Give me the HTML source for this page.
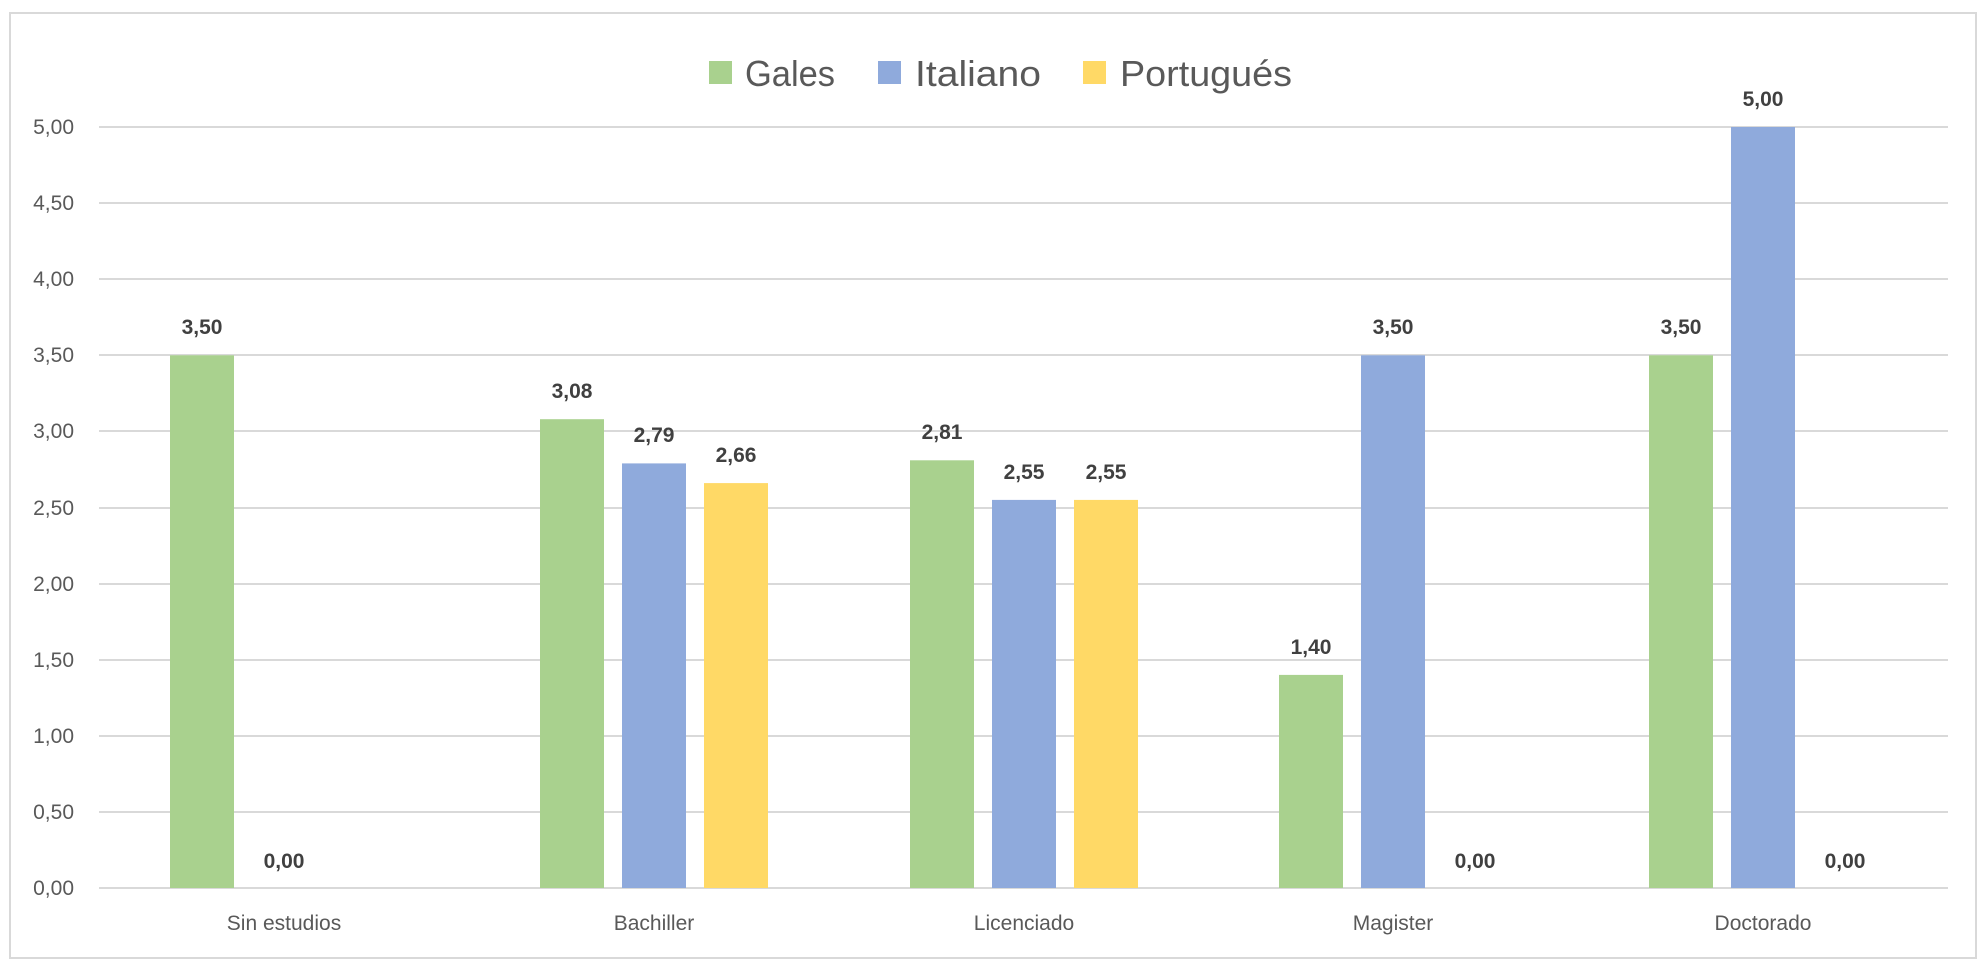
<!DOCTYPE html>
<html><head><meta charset="utf-8"><style>html,body{margin:0;padding:0;background:#fff}svg{display:block}</style></head>
<body>
<svg width="1986" height="970" viewBox="0 0 1986 970" xmlns="http://www.w3.org/2000/svg" font-family="Liberation Sans, sans-serif">
<rect x="10" y="13" width="1966" height="945" fill="#fff" stroke="#d9d9d9" stroke-width="2"/>
<!-- legend -->
<rect x="709" y="61" width="23" height="23" fill="#a9d18e"/>
<text x="745" y="86" font-size="36" fill="#595959" textLength="90" lengthAdjust="spacingAndGlyphs">Gales</text>
<rect x="878" y="61" width="23" height="23" fill="#8faadc"/>
<text x="915" y="86" font-size="36" fill="#595959" textLength="126" lengthAdjust="spacingAndGlyphs">Italiano</text>
<rect x="1083" y="61" width="23" height="23" fill="#ffd966"/>
<text x="1120" y="86" font-size="36" fill="#595959" textLength="172" lengthAdjust="spacingAndGlyphs">Portugués</text>
<!-- gridlines -->
<g stroke="#d9d9d9" stroke-width="2">
<line x1="99" x2="1948" y1="127" y2="127"/>
<line x1="99" x2="1948" y1="203" y2="203"/>
<line x1="99" x2="1948" y1="279" y2="279"/>
<line x1="99" x2="1948" y1="355" y2="355"/>
<line x1="99" x2="1948" y1="431" y2="431"/>
<line x1="99" x2="1948" y1="508" y2="508"/>
<line x1="99" x2="1948" y1="584" y2="584"/>
<line x1="99" x2="1948" y1="660" y2="660"/>
<line x1="99" x2="1948" y1="736" y2="736"/>
<line x1="99" x2="1948" y1="812" y2="812"/>
<line x1="99" x2="1948" y1="888" y2="888"/>
</g>
<g font-size="21" fill="#595959" text-anchor="end">
<text x="74" y="134">5,00</text>
<text x="74" y="210">4,50</text>
<text x="74" y="286">4,00</text>
<text x="74" y="362">3,50</text>
<text x="74" y="438">3,00</text>
<text x="74" y="515">2,50</text>
<text x="74" y="591">2,00</text>
<text x="74" y="667">1,50</text>
<text x="74" y="743">1,00</text>
<text x="74" y="819">0,50</text>
<text x="74" y="895">0,00</text>
</g>
<!-- bars: y = 888 - v*152.2 -->
<g>
<rect x="170" y="355.3" width="64" height="532.7" fill="#a9d18e"/>
<rect x="540" y="419.2" width="64" height="468.8" fill="#a9d18e"/>
<rect x="622" y="463.4" width="64" height="424.6" fill="#8faadc"/>
<rect x="704" y="483.1" width="64" height="404.9" fill="#ffd966"/>
<rect x="910" y="460.3" width="64" height="427.7" fill="#a9d18e"/>
<rect x="992" y="499.9" width="64" height="388.1" fill="#8faadc"/>
<rect x="1074" y="499.9" width="64" height="388.1" fill="#ffd966"/>
<rect x="1279" y="674.9" width="64" height="213.1" fill="#a9d18e"/>
<rect x="1361" y="355.3" width="64" height="532.7" fill="#8faadc"/>
<rect x="1649" y="355.3" width="64" height="532.7" fill="#a9d18e"/>
<rect x="1731" y="127" width="64" height="761" fill="#8faadc"/>
</g>
<g font-size="21" font-weight="bold" fill="#404040" text-anchor="middle">
<text x="202" y="334">3,50</text>
<text x="284" y="868">0,00</text>
<text x="572" y="398">3,08</text>
<text x="654" y="442">2,79</text>
<text x="736" y="462">2,66</text>
<text x="942" y="439">2,81</text>
<text x="1024" y="479">2,55</text>
<text x="1106" y="479">2,55</text>
<text x="1311" y="654">1,40</text>
<text x="1393" y="334">3,50</text>
<text x="1475" y="868">0,00</text>
<text x="1681" y="334">3,50</text>
<text x="1763" y="106">5,00</text>
<text x="1845" y="868">0,00</text>
</g>
<g font-size="21" fill="#595959" text-anchor="middle">
<text x="284" y="930">Sin estudios</text>
<text x="654" y="930">Bachiller</text>
<text x="1024" y="930">Licenciado</text>
<text x="1393" y="930">Magister</text>
<text x="1763" y="930">Doctorado</text>
</g>
</svg>
</body></html>
